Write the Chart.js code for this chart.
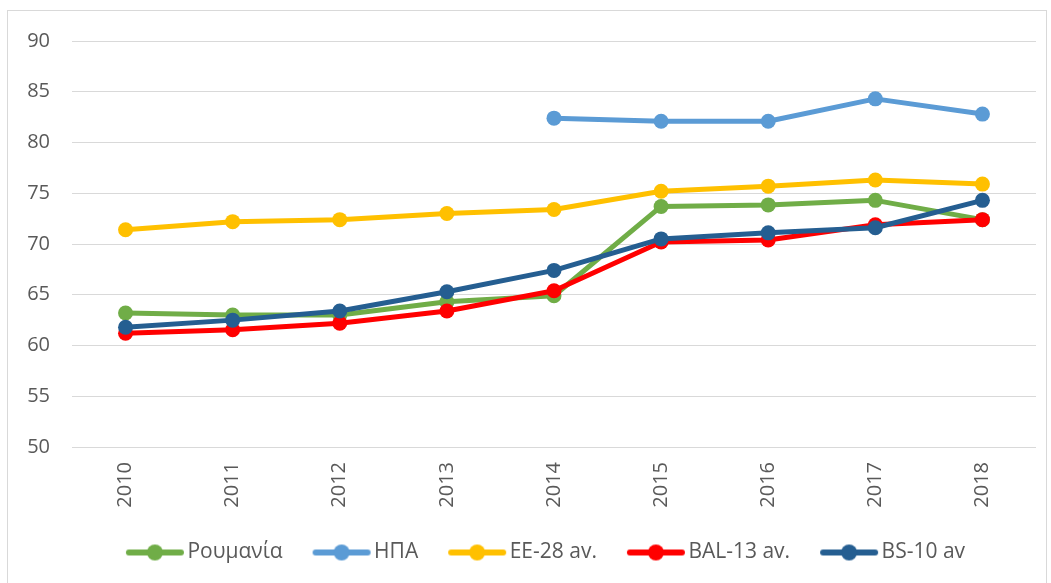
<!DOCTYPE html>
<html>
<head>
<meta charset="utf-8">
<script src="https://cdn.jsdelivr.net/npm/chart.js@4/dist/chart.umd.min.js"></script>
<style>
  html, body { margin: 0; padding: 0; background: #fff; overflow: hidden; }
  #wrap {
    position: absolute; left: 7px; top: 10px;
    width: 1038px; height: 600px;
    border: 1px solid #d9d9d9;
  }
  #box { position: absolute; left: 0; top: 0; width: 1038px; height: 562px; }
</style>
</head>
<body>
<div id="wrap"><div id="box"><canvas id="chart"></canvas></div></div>
<script>
// data
const years = ['2010', '2011', '2012', '2013', '2014', '2015', '2016', '2017', '2018'];
const romania = [63.2, 63.0, 63.0, 64.3, 64.9, 73.7, 73.85, 74.3, 72.4];
const usa = [null, null, null, null, 82.4, 82.1, 82.1, 84.3, 82.8];
const eu28 = [71.4, 72.2, 72.4, 73.0, 73.4, 75.2, 75.7, 76.3, 75.9];
const bal13 = [61.2, 61.55, 62.2, 63.4, 65.4, 70.2, 70.4, 71.9, 72.4];
const bs10 = [61.8, 62.5, 63.4, 65.3, 67.4, 70.5, 71.1, 71.6, 74.3];

const seriesNames = ['Ρουμανία', 'ΗΠΑ', 'ΕΕ-28 av.', 'BAL-13 av.', 'BS-10 av'];
const seriesColors = ['#70ad47', '#5b9bd5', '#ffc000', '#ff0000', '#255e91'];
const seriesData = [romania, usa, eu28, bal13, bs10];

// legend marker: line with a dot in the middle, like Excel
// image is centred on the legend box, so the mark is shifted right to sit close to the text
function legendMarker(color) {
    const c = document.createElement('canvas');
    c.width = 70; c.height = 18;
    const g = c.getContext('2d');
    g.strokeStyle = color;
    g.lineWidth = 6;
    g.lineCap = 'round';
    g.beginPath();
    g.moveTo(12, 9); g.lineTo(64, 9);
    g.stroke();
    g.fillStyle = color;
    g.beginPath();
    g.arc(38, 9, 8, 0, Math.PI * 2);
    g.fill();
    return c;
}

// Excel centres the legend a bit right of the canvas middle
const legendShift = {
    id: 'legendShift',
    afterLayout(chart) {
        if (chart.legend) {
            chart.legend.left += 24;
            chart.legend.right += 24;
        }
    }
};

const datasets = seriesNames.map((name, i) => ({
    label: name,
    data: seriesData[i],
    borderColor: seriesColors[i],
    backgroundColor: seriesColors[i],
    borderWidth: 5,
    borderJoinStyle: 'round',
    borderCapStyle: 'round',
    pointRadius: 7.5,
    pointHoverRadius: 7.5,
    pointBorderWidth: 0,
    tension: 0,
    spanGaps: false,
    order: seriesNames.length - i
}));

const textColor = '#595959';
const fontFamily = '"Open Sans", "DejaVu Sans", sans-serif';

new Chart(document.getElementById('chart'), {
    type: 'line',
    data: { labels: years, datasets: datasets },
    plugins: [legendShift],
    options: {
        responsive: true,
        maintainAspectRatio: false,
        animation: false,
        layout: { padding: { top: 30, right: 10, bottom: 0, left: 0 } },
        plugins: {
            tooltip: { enabled: false },
            legend: {
                position: 'bottom',
                labels: {
                    color: textColor,
                    font: { family: fontFamily, size: 21 },
                    usePointStyle: true,
                    pointStyleWidth: 50,
                    padding: 31,
                    sort: (a, b) => a.datasetIndex - b.datasetIndex,
                    generateLabels: function (chart) {
                        const items = Chart.defaults.plugins.legend.labels.generateLabels(chart);
                        items.forEach(it => {
                            it.pointStyle = legendMarker(seriesColors[it.datasetIndex]);
                        });
                        return items;
                    }
                }
            }
        },
        scales: {
            x: {
                offset: true,
                grid: { display: false, drawTicks: false },
                border: { display: false },
                ticks: {
                    color: textColor,
                    font: { family: fontFamily, size: 20 },
                    minRotation: 90,
                    maxRotation: 90,
                    padding: 15
                },
                afterFit: function (axis) { axis.height = 64; }
            },
            y: {
                min: 50,
                max: 90,
                grid: { color: '#d9d9d9', lineWidth: 1, drawTicks: false },
                border: { display: false },
                ticks: {
                    stepSize: 5,
                    color: textColor,
                    font: { family: fontFamily, size: 20 },
                    padding: 22
                },
                afterFit: function (axis) {
                    axis.width = 64;
                    axis.paddingTop = 0;
                    axis.paddingBottom = 0;
                }
            }
        }
    }
});
</script>
</body>
</html>
